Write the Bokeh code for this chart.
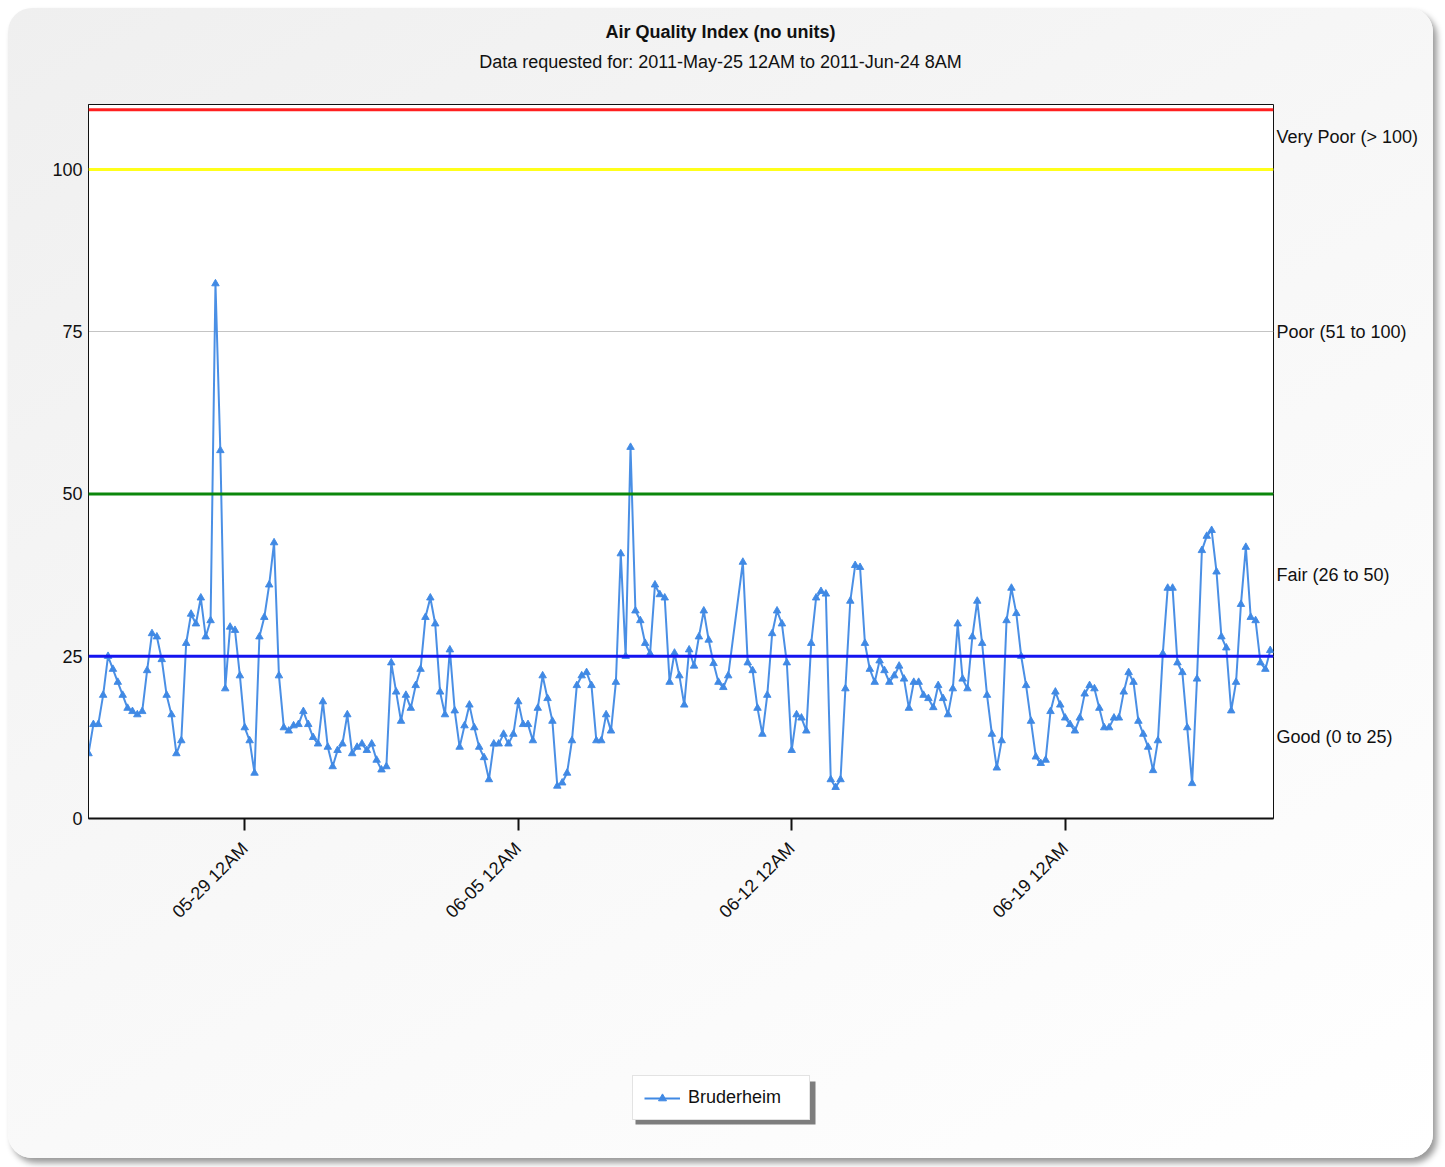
import math
import pandas as pd
from bokeh.plotting import figure
from bokeh.layouts import column
from bokeh.models import (Range1d, FixedTicker, DatetimeTickFormatter, Span, Label,
                          Legend, LegendItem, ColumnDataSource, LinearAxis, BoxAnnotation)
from bokeh.embed import file_html
from bokeh.resources import INLINE

# ---------------- data ----------------
title_text = "Air Quality Index (no units)"
subtitle_text = "Data requested for: 2011-May-25 12AM to 2011-Jun-24 8AM"
series_name = "Bruderheim"
range_start = "2011-05-25 00:00"
range_end = "2011-06-24 08:00"
step = "3h"

# AQI readings every 3 hours from 2011-05-25 00:00 (None = no reading)
aqi_values = [
    10, 14.5, 14.5, 19, 25, 23, 21, 19,            # May 25
    17, 16.5, 16, 16.5, 22.8, 28.5, 28, 24.5,      # May 26
    19, 16, 10, 12, 27, 31.5, 30, 34,              # May 27
    28, 30.5, 82.4, 56.7, 20, 29.5, 29, 22,        # May 28
    14, 12, 7, 28, 31, 36, 42.5, 22,               # May 29
    14, 13.5, 14.3, 14.5, 16.5, 14.5, 12.5, 11.5,  # May 30
    18, 11, 8, 10.5, 11.5, 16, 10, 11,             # May 31
    11.5, 10.5, 11.5, 9, 7.5, 8, 24, 19.5,         # Jun 1
    15, 19, 17, 20.5, 23, 31, 34, 30,              # Jun 2
    19.5, 16, 26, 16.6, 11, 14.3, 17.5, 14,        # Jun 3
    11, 9.4, 6, 11.5, 11.5, 13, 11.5, 13,          # Jun 4
    18, 14.5, 14.5, 12, 17, 22, 18.5, 15,          # Jun 5
    5, 5.5, 7, 12, 20.5, 22, 22.5, 20.5,           # Jun 6
    12, 12, 16, 13.5, 21, 40.8, 25, 57.2,          # Jun 7
    32, 30.5, 27, 25.4, 36, 34.5, 34, 21,          # Jun 8
    25.5, 22, 17.5, 26, 23.5, 28, 32, 27.5,        # Jun 9
    23.9, 21, 20.2, 22, None, None, 39.5, 24,      # Jun 10
    22.8, 17, 13, 19, 28.5, 32, 30, 24,            # Jun 11
    10.5, 16, 15.5, 13.5, 27, 34, 35, 34.6,        # Jun 12
    6, 4.8, 6, 20, 33.5, 39, 38.7, 27,             # Jun 13
    23, 21, 24.3, 22.8, 21, 22, 23.5, 21.5,        # Jun 14
    17, 21, 21, 19, 18.5, 17.1, 20.5, 18.5,        # Jun 15
    16, 20, 30, 21.5, 20, 28, 33.5, 27,            # Jun 16
    19, 13, 7.8, 12, 30.5, 35.5, 31.6, 25,         # Jun 17
    20.5, 15, 9.5, 8.5, 9, 16.5, 19.5, 17.5,       # Jun 18
    15.5, 14.5, 13.5, 15.5, 19.2, 20.5, 20, 17,    # Jun 19
    14, 14, 15.5, 15.5, 19.5, 22.5, 21, 15,        # Jun 20
    13, 11, 7.4, 12, 25.4, 35.5, 35.5, 24,         # Jun 21
    22.5, 14, 5.4, 21.5, 41.3, 43.5, 44.4, 38,     # Jun 22
    28, 26.3, 16.6, 21, 33, 41.8, 31, 30.5,        # Jun 23
    24, 23, 25.9,                                  # Jun 24
]

x_tick_dates = ["2011-05-29", "2011-06-05", "2011-06-12", "2011-06-19"]
y_ticks = [0, 25, 50, 75, 100]
y_max = 110

band_labels = ["Good (0 to 25)", "Fair (26 to 50)", "Poor (51 to 100)", "Very Poor (> 100)"]
band_lows = [0, 25, 50, 100]
band_highs = [25, 50, 100, 110]

limit_values = [25, 50, 100, 109.2]
limit_colors = ["#1414f0", "#0b870b", "#ffff1a", "#ff2020"]

# ---------------- style ----------------
FONT = "Liberation Sans"
FS = "18px"
BLUE = "#4089e4"
INK = "#111111"
W = 1425
BL, BR = 80, 160   # side borders shared by all three strips

times = pd.date_range(range_start, periods=len(aqi_values), freq=step)
pairs = [(t, v) for t, v in zip(times, aqi_values) if v is not None]
src = ColumnDataSource(data=dict(t=[q[0] for q in pairs], v=[q[1] for q in pairs]))

t0 = pd.Timestamp(range_start)
t1 = pd.Timestamp(range_end)

# ---------- title strip ----------
pt = figure(width=W, height=80, x_axis_location=None, y_axis_location=None,
            output_backend="svg", toolbar_location=None, title=None,
            min_border_left=BL, min_border_right=BR, min_border_top=0, min_border_bottom=0,
            x_range=Range1d(0, 1), y_range=Range1d(0, 1))
pt.outline_line_color = None
pt.background_fill_alpha = 0.0
pt.border_fill_alpha = 0.0
pt.grid.visible = False
pt.add_layout(Label(x=632, y=57, x_units="screen", y_units="screen", text=title_text,
                    text_align="center", text_baseline="middle", text_font=FONT,
                    text_font_size=FS, text_font_style="bold", text_color=INK))
pt.add_layout(Label(x=632, y=27, x_units="screen", y_units="screen", text=subtitle_text,
                    text_align="center", text_baseline="middle", text_font=FONT,
                    text_font_size=FS, text_color=INK))

# ---------- main chart ----------
p = figure(width=W, height=960, x_axis_type="datetime",
           x_range=Range1d(t0, t1), y_range=Range1d(0, y_max),
           output_backend="svg", toolbar_location=None, title=None,
           min_border_left=BL, min_border_right=BR,
           min_border_top=16, min_border_bottom=230)
p.background_fill_color = "white"
p.border_fill_alpha = 0.0
p.outline_line_color = INK
p.outline_line_width = 1

p.xgrid.visible = False
p.ygrid.ticker = FixedTicker(ticks=y_ticks)
p.ygrid.grid_line_color = "#c4c4c4"
p.ygrid.grid_line_width = 1

tick_ms = [pd.Timestamp(d).value / 1e6 for d in x_tick_dates]
p.xaxis.ticker = FixedTicker(ticks=tick_ms)
fmt = "%m-%d %I%p"
p.xaxis.formatter = DatetimeTickFormatter(
    microseconds=fmt, milliseconds=fmt, seconds=fmt, minsec=fmt, minutes=fmt,
    hourmin=fmt, hours=fmt, days=fmt, months=fmt, years=fmt)
p.xaxis.major_label_orientation = math.pi / 4
p.xaxis.major_tick_out = 12
p.xaxis.major_tick_in = 0
p.xaxis.major_tick_line_width = 2
p.xaxis.major_tick_line_color = INK
p.xaxis.minor_tick_line_color = None
p.xaxis.axis_line_color = INK
p.xaxis.axis_line_width = 2
p.xaxis.major_label_text_font = FONT
p.xaxis.major_label_text_font_size = FS
p.xaxis.major_label_text_color = INK
p.xaxis.major_label_standoff = 15

p.yaxis.ticker = FixedTicker(ticks=y_ticks)
p.yaxis.major_tick_line_color = None
p.yaxis.minor_tick_line_color = None
p.yaxis.axis_line_color = INK
p.yaxis.major_label_text_font = FONT
p.yaxis.major_label_text_font_size = FS
p.yaxis.major_label_text_color = INK
p.yaxis.major_label_standoff = 0

band_mids = [(lo + hi) / 2 for lo, hi in zip(band_lows, band_highs)]
right_axis = LinearAxis(ticker=FixedTicker(ticks=band_mids),
                        major_label_overrides={float(m): t for m, t in zip(band_mids, band_labels)})
right_axis.axis_line_color = None
right_axis.major_tick_line_color = None
right_axis.minor_tick_line_color = None
right_axis.major_tick_out = 0
right_axis.major_label_standoff = 3
right_axis.major_label_text_font = FONT
right_axis.major_label_text_font_size = FS
right_axis.major_label_text_color = INK
p.add_layout(right_axis, "right")

p.line(x="t", y="v", source=src, line_color=BLUE, line_width=2, line_alpha=0.95)
p.scatter(x="t", y="v", source=src, marker="triangle", size=7.5,
          fill_color=BLUE, line_color=BLUE, line_alpha=0.9)

for lv, lc in zip(limit_values, limit_colors):
    p.add_layout(Span(location=lv, dimension="width", line_color=lc, line_width=3))

# ---------- legend strip ----------
pl = figure(width=W, height=110, x_axis_location=None, y_axis_location=None,
            output_backend="svg", toolbar_location=None, title=None,
            x_range=Range1d(0, 1), y_range=Range1d(0, 1),
            min_border_left=BL, min_border_right=BR,
            min_border_top=12, min_border_bottom=18)
pl.outline_line_color = None
pl.background_fill_alpha = 0.0
pl.border_fill_alpha = 0.0
pl.grid.visible = False
leg_line = pl.line(x="t", y="v", source=src, line_color=BLUE, line_width=2)
leg_pts = pl.scatter(x="t", y="v", source=src, marker="triangle", size=7,
                     fill_color=BLUE, line_color=BLUE)
pl.add_layout(BoxAnnotation(left=547, right=727, bottom=16, top=59,
                            left_units="screen", right_units="screen",
                            bottom_units="screen", top_units="screen",
                            fill_color="#7d7d7d", fill_alpha=1.0, line_color=None))
legend = Legend(items=[LegendItem(label=series_name, renderers=[leg_line, leg_pts])],
                location=(544, 20), orientation="vertical",
                background_fill_color="white", background_fill_alpha=1.0,
                border_line_color="#c8c8c8", border_line_width=1,
                label_text_font=FONT, label_text_font_size=FS, label_text_color=INK,
                padding=11, margin=0, glyph_width=36, glyph_height=20,
                label_height=20, label_width=110, label_standoff=8)
pl.add_layout(legend)

page = column(pt, p, pl, spacing=0, styles={
    "margin": "8px",
    "border-radius": "24px",
    "overflow": "hidden",
    "box-shadow": "4px 5px 6px rgba(0,0,0,0.40)",
    "background": "linear-gradient(150deg, #efefef 0%, #f7f7f7 45%, #ffffff 100%)",
})

open("out.html", "w").write(file_html(page, INLINE))
